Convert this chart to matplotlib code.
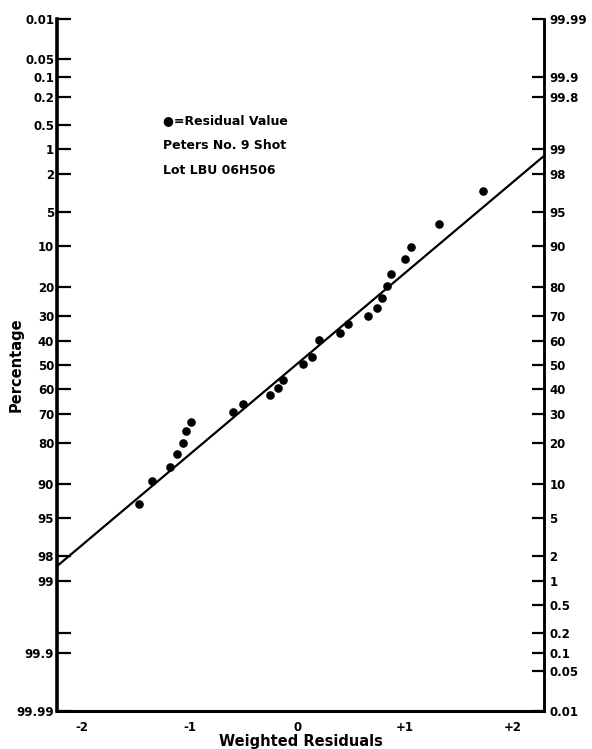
import math
import numpy as np
import matplotlib
matplotlib.use("Agg")
import matplotlib.pyplot as plt
from matplotlib.ticker import FixedLocator, FixedFormatter

# ---------------- data ----------------
resid_x = [-1.471, -1.350, -1.183, -1.118, -1.063, -1.035, -0.988, -0.599, -0.506,
           -0.255, -0.181, -0.135, 0.051, 0.135, 0.200, 0.394, 0.469, 0.654, 0.738,
           0.784, 0.831, 0.868, 0.998, 1.053, 1.313, 1.722]
resid_pct = [93.3, 89.4, 86.4, 83.1, 79.9, 76.1, 73.0, 69.3, 66.2, 62.7, 59.8, 56.4,
             49.6, 46.6, 39.4, 36.5, 33.0, 29.9, 27.0, 23.6, 19.8, 16.4, 12.7, 10.2,
             6.5, 3.1]
line_x = [-2.23, 2.29]
line_pct = [98.47, 1.23]

left_tick_pct = [0.01, 0.05, 0.1, 0.2, 0.5, 1, 2, 5, 10, 20, 30, 40, 50, 60, 70, 80,
                 90, 95, 98, 99, 99.8, 99.9, 99.99]
left_tick_labels = ['0.01', '0.05', '0.1', '0.2', '0.5', '1', '2', '5', '10', '20', '30',
                    '40', '50', '60', '70', '80', '90', '95', '98', '99', '', '99.9', '99.99']
right_tick_labels = ['99.99', '99.9', '99.8', '99', '98', '95', '90', '80', '70', '60',
                     '50', '40', '30', '20', '10', '5', '2', '1', '0.5', '0.2', '0.1',
                     '0.05', '0.01']
x_ticks = [-2, -1, 0, 1, 2]
x_tick_labels = ['-2', '-1', '0', '+1', '+2']
note_lines = ['\u25cf=Residual Value', 'Peters No. 9 Shot', 'Lot LBU 06H506']

# ---------------- probit scale ----------------
_erf = np.vectorize(math.erf)


def norm_cdf(z):
    z = np.asarray(z, dtype=float)
    return 0.5 * (1.0 + _erf(z / math.sqrt(2.0)))


def norm_ppf(p):
    p = np.clip(np.asarray(p, dtype=float), 1e-12, 1 - 1e-12)
    a = [-3.969683028665376e+01, 2.209460984245205e+02, -2.759285104469687e+02,
         1.383577518672690e+02, -3.066479806614716e+01, 2.506628277459239e+00]
    b = [-5.447609879822406e+01, 1.615858368580409e+02, -1.556989798598866e+02,
         6.680131188771972e+01, -1.328068155288572e+01]
    c = [-7.784894002430293e-03, -3.223964580411365e-01, -2.400758277161838e+00,
         -2.549732539343734e+00, 4.374664141464968e+00, 2.938163982698783e+00]
    d = [7.784695709041462e-03, 3.224671290700398e-01, 2.445134137142996e+00,
         3.754408661907416e+00]
    plow = 0.02425
    x = np.empty_like(p)
    lo = p < plow
    hi = p > 1 - plow
    mid = ~(lo | hi)
    q = np.sqrt(-2 * np.log(p[lo]))
    x[lo] = (((((c[0]*q+c[1])*q+c[2])*q+c[3])*q+c[4])*q+c[5]) / ((((d[0]*q+d[1])*q+d[2])*q+d[3])*q+1)
    q = p[mid] - 0.5
    r = q * q
    x[mid] = (((((a[0]*r+a[1])*r+a[2])*r+a[3])*r+a[4])*r+a[5])*q / (((((b[0]*r+b[1])*r+b[2])*r+b[3])*r+b[4])*r+1)
    q = np.sqrt(-2 * np.log(1 - p[hi]))
    x[hi] = -(((((c[0]*q+c[1])*q+c[2])*q+c[3])*q+c[4])*q+c[5]) / ((((d[0]*q+d[1])*q+d[2])*q+d[3])*q+1)
    return x


def fwd(pct):
    return norm_ppf(np.asarray(pct, dtype=float) / 100.0)


def inv(z):
    return norm_cdf(z) * 100.0


# ---------------- figure ----------------
plt.rcParams['font.family'] = ['DejaVu Sans']
plt.rcParams['font.weight'] = 'bold'

fig = plt.figure(figsize=(5.92, 7.49), dpi=100)
ax = fig.add_axes([57/592, 1 - 711/749, (544-57)/592, (711-19)/749])

ax.set_yscale('function', functions=(fwd, inv))
ax.set_ylim(99.99, 0.01)
ax.set_xlim(-2.23, 2.29)

ax.plot(line_x, line_pct, color='black', lw=1.6, solid_capstyle='butt')
ax.plot(resid_x, resid_pct, 'o', color='black', markersize=6.2, markeredgewidth=0)

ax.yaxis.set_major_locator(FixedLocator(left_tick_pct))
ax.yaxis.set_major_formatter(FixedFormatter(left_tick_labels))
ax.yaxis.set_minor_locator(FixedLocator([]))
ax.tick_params(axis='y', direction='in', length=10, width=1.6, pad=2, labelsize=8.5)

ax.set_xticks(x_ticks)
ax.set_xticklabels(x_tick_labels)
ax.tick_params(axis='x', length=0, pad=7, labelsize=8.5)

ax.spines['top'].set_visible(False)
ax.spines['left'].set_linewidth(2.6)
ax.spines['bottom'].set_linewidth(2.2)
ax.spines['right'].set_linewidth(1.8)

for lab in ax.get_xticklabels() + ax.get_yticklabels():
    lab.set_fontweight('bold')

ax2 = ax.twinx()
ax2.set_yscale('function', functions=(fwd, inv))
ax2.set_ylim(99.99, 0.01)
right_pos = [100 - float(s) for s in right_tick_labels]
ax2.yaxis.set_major_locator(FixedLocator(right_pos))
ax2.yaxis.set_major_formatter(FixedFormatter(right_tick_labels))
ax2.yaxis.set_minor_locator(FixedLocator([]))
ax2.tick_params(axis='y', direction='in', length=9, width=1.6, pad=4, labelsize=8.5)
for s in ['top', 'left', 'bottom']:
    ax2.spines[s].set_visible(False)
ax2.spines['right'].set_linewidth(1.8)
for lab in ax2.get_yticklabels():
    lab.set_fontweight('bold')

ax.set_xlabel('Weighted Residuals', fontsize=10.5, fontweight='bold', labelpad=0)
ax.set_ylabel('Percentage', fontsize=10.5, fontweight='bold', va='center')
ax.yaxis.set_label_coords(-0.084, 0.5)

for i, t in enumerate(note_lines):
    ax.text(0.218, 0.853 - i * 0.036, t, transform=ax.transAxes, fontsize=9,
            fontweight='bold', va='center', ha='left')

fig.savefig('out.png', dpi=100)
